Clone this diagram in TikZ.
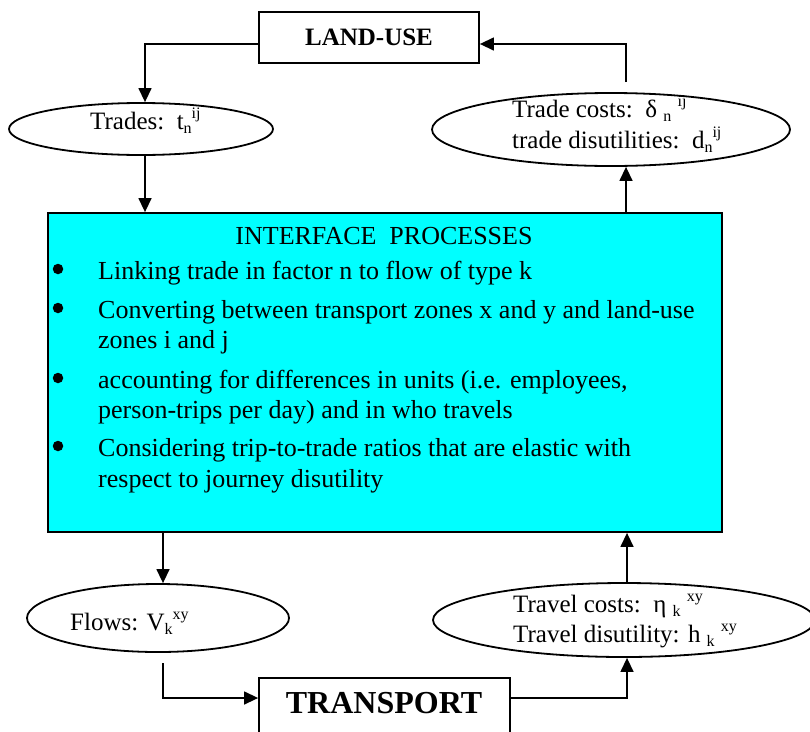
\documentclass[tikz,border=0pt]{standalone}
\usepackage{fontspec}
\setmainfont{Liberation Serif}
\usetikzlibrary{arrows.meta,shapes.geometric}
\newcommand\lsub[1]{\raisebox{-4pt}{\fontsize{16}{16}\selectfont #1}}
\newcommand\lsup[1]{\raisebox{11pt}{\fontsize{16}{16}\selectfont #1}}
\definecolor{ifcyan}{RGB}{0,255,255}
\begin{document}
\begin{tikzpicture}[x=1pt,y=-1pt,
  conn/.style={line width=1.4pt},
  arr/.style={conn,-{Triangle[length=14pt,width=13pt]}},
  boxstyle/.style={draw,line width=1.8pt,rectangle,inner sep=0pt},
  ell/.style={draw,ellipse,line width=1.8pt,inner sep=0pt},
  elltext/.style={anchor=base west,inner sep=0pt,font=\fontsize{25}{30}\selectfont},
  boxtext/.style={anchor=base west,inner sep=0pt,font=\fontsize{26}{30}\selectfont},
  dotstyle/.style={circle,fill=black,inner sep=0pt,minimum size=10.5pt}]
\clip (0,0) rectangle (810,731);
\fill[white] (0,0) rectangle (810,731);

% boxes
\node[boxstyle,minimum width=220pt,minimum height=51pt,font=\bfseries\fontsize{25}{30}\selectfont] (landuse) at (369,37.5) {LAND-USE};
\node[boxstyle,minimum width=251pt,minimum height=80pt] (transport) at (384.5,718) {};
\node[anchor=base,inner sep=0pt,font=\bfseries\fontsize{32}{36}\selectfont] (transportlbl) at (384,713) {TRANSPORT};
\node[boxstyle,fill=ifcyan,minimum width=674pt,minimum height=319pt] (iface) at (385,372.5) {};

% ellipses
\node[ell,minimum width=264pt,minimum height=52pt] (trades) at (141,129) {};
\node[elltext] (tradestxt) at (90,129) {Trades:\ \ t\lsub{n}\lsup{ij}};

\node[ell,minimum width=358pt,minimum height=73pt] (tcost) at (611,129.5) {};
\node[elltext] (tcost1) at (512,117) {Trade costs:\ \ δ \lsub{n} \lsup{ij}};
\node[elltext] (tcost2) at (512,148) {trade disutilities:\ \ d\lsub{n}\lsup{ij}};

\node[ell,minimum width=262pt,minimum height=68pt] (flows) at (158,618) {};
\node[elltext] (flowstxt) at (70,630) {Flows: V\lsub{k}\lsup{xy}};

\node[ell,minimum width=382pt,minimum height=74pt] (tvcost) at (624,620) {};
\node[elltext] (tv1) at (513,612) {Travel costs:\ \ η \lsub{k} \lsup{xy}};
\node[elltext] (tv2) at (513,642) {Travel disutility: h \lsub{k} \lsup{xy}};

% interface text
\node[anchor=base,inner sep=0pt,font=\fontsize{26}{30}\selectfont] (title) at (384,244) {INTERFACE\ \ PROCESSES};
\node[dotstyle] (d1) at (58,269) {};
\node[boxtext] (l1) at (98,279) {Linking trade in factor n to flow of type k};
\node[dotstyle] (d2) at (58,308) {};
\node[boxtext] (l2) at (98,318) {Converting between transport zones x and y and land-use};
\node[boxtext] (l3) at (98,348) {zones i and j};
\node[dotstyle] (d3) at (58,378) {};
\node[boxtext] (l4) at (98,388) {accounting for differences in units (i.e. employees,};
\node[boxtext] (l5) at (98,418) {person-trips per day) and in who travels};
\node[dotstyle] (d4) at (58,446) {};
\node[boxtext] (l6) at (98,456) {Considering trip-to-trade ratios that are elastic with};
\node[boxtext] (l7) at (98,487) {respect to journey disutility};

% helper coordinates
\coordinate (cl) at (145,0);
\coordinate (cr) at (626,0);
\coordinate (bl) at (163,0);
\coordinate (br) at (627,0);
\coordinate (trfree) at (626,82);
\coordinate (blfree) at (163,663);

% connectors
\draw[arr] ([yshift=-6.5pt]landuse.west) -| (cl |- trades.north);
\draw[arr] (cl |- trades.south) -- (cl |- iface.north);
\draw[arr] (cr |- iface.north) -- (cr |- tcost.south);
\draw[arr] (trfree) |- ([yshift=-6.5pt]landuse.east);
\draw[arr] (bl |- iface.south) -- (bl |- flows.north);
\draw[arr] (blfree) |- ([yshift=20pt]transport.west);
\draw[arr] ([yshift=20pt]transport.east) -| (br |- tvcost.south);
\draw[arr] (br |- tvcost.north) -- (br |- iface.south);
\end{tikzpicture}
\end{document}
